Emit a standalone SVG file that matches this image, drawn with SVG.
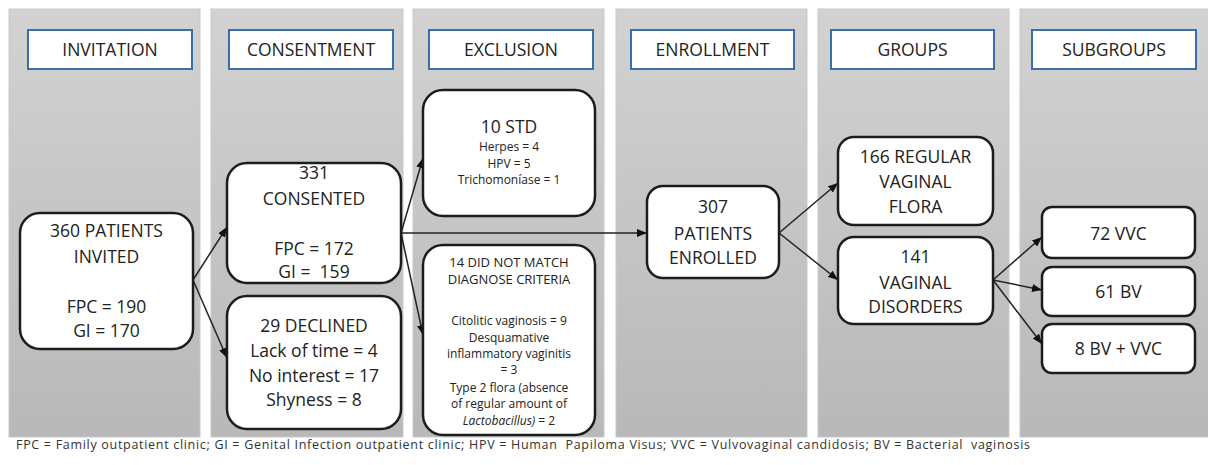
<svg xmlns="http://www.w3.org/2000/svg" width="1208" height="465" viewBox="0 0 1208 465">
<defs>
<linearGradient id="pg" x1="0" y1="0" x2="0" y2="1">
<stop offset="0" stop-color="#d2d2d2"/>
<stop offset="1" stop-color="#b8b8b8"/>
</linearGradient>
<marker id="ah" markerUnits="userSpaceOnUse" markerWidth="10" markerHeight="8" refX="10" refY="4" orient="auto">
<path d="M0,0 L10,4 L0,8 z" fill="#111"/>
</marker>
</defs>
<style>
.panel{fill:url(#pg);stroke:#c9c9c9;stroke-width:1}
.hdr{fill:#fff;stroke:#3a6ea8;stroke-width:2}
.box{fill:#fff;stroke:#1c1c1c;stroke-width:2.5}
text{font-family:"Open Sans","Liberation Sans",sans-serif;fill:#222;text-anchor:middle}
.h{font-size:17.5px}
.t{font-size:17.5px}
.m{font-size:13px}
.s{font-size:12px}
.c{stroke:#222;stroke-width:1.5;fill:none;marker-end:url(#ah)}
.foot{font-size:12.5px;text-anchor:start;fill:#333}
</style>
<rect width="1208" height="465" fill="#fff"/>
<g id="panels">
<rect class="panel" x="9" y="9" width="191" height="428"/>
<rect class="panel" x="211" y="9" width="192" height="428"/>
<rect class="panel" x="413" y="9" width="191" height="428"/>
<rect class="panel" x="616" y="9" width="191" height="428"/>
<rect class="panel" x="818" y="9" width="191" height="428"/>
<rect class="panel" x="1020" y="9" width="190" height="428"/>
</g>
<g id="headers">
<g id="h-invitation"><rect class="hdr" x="28" y="30" width="164" height="39"/><text class="h" x="110" y="56">INVITATION</text></g>
<g id="h-consentment"><rect class="hdr" x="229" y="30" width="164" height="39"/><text class="h" x="311" y="56">CONSENTMENT</text></g>
<g id="h-exclusion"><rect class="hdr" x="429" y="30" width="164" height="39"/><text class="h" x="511" y="56">EXCLUSION</text></g>
<g id="h-enrollment"><rect class="hdr" x="631" y="30" width="163" height="39"/><text class="h" x="712.5" y="56">ENROLLMENT</text></g>
<g id="h-groups"><rect class="hdr" x="831" y="30" width="163" height="39"/><text class="h" x="912.5" y="56">GROUPS</text></g>
<g id="h-subgroups"><rect class="hdr" x="1032" y="30" width="164" height="39"/><text class="h" x="1114" y="56">SUBGROUPS</text></g>
</g>
<g id="connectors">
<line class="c" x1="193" y1="280" x2="227" y2="227"/>
<line class="c" x1="193" y1="280" x2="227" y2="358"/>
<line class="c" x1="401" y1="233" x2="423" y2="158"/>
<line class="c" x1="401" y1="233" x2="423" y2="335"/>
<line class="c" x1="401" y1="233" x2="647" y2="233"/>
<line class="c" x1="779" y1="233" x2="838" y2="183"/>
<line class="c" x1="779" y1="233" x2="838" y2="280"/>
<line class="c" x1="993" y1="280" x2="1042" y2="237"/>
<line class="c" x1="993" y1="280" x2="1042" y2="290"/>
<line class="c" x1="993" y1="280" x2="1042" y2="344"/>
</g>
<g id="n-invited">
<rect class="box" x="20" y="213" width="173" height="136" rx="20"/>
<text class="t" x="106.5" y="237">360 PATIENTS</text>
<text class="t" x="106.5" y="263">INVITED</text>
<text class="t" x="106.5" y="313">FPC = 190</text>
<text class="t" x="106.5" y="337">GI = 170</text>
</g>
<g id="n-consented">
<rect class="box" x="227" y="163" width="174" height="120" rx="20"/>
<text class="t" x="314" y="179">331</text>
<text class="t" x="314" y="205">CONSENTED</text>
<text class="t" x="314" y="255">FPC = 172</text>
<text class="t" x="314" y="278" xml:space="preserve">GI =  159</text>
</g>
<g id="n-declined">
<rect class="box" x="227" y="296" width="174" height="133" rx="20"/>
<text class="t" x="314" y="332">29 DECLINED</text>
<text class="t" x="314" y="357">Lack of time = 4</text>
<text class="t" x="314" y="382">No interest = 17</text>
<text class="t" x="314" y="406">Shyness = 8</text>
</g>
<g id="n-std">
<rect class="box" x="423" y="90" width="172" height="126" rx="20"/>
<text class="t" x="509" y="133">10 STD</text>
<text class="s" x="509" y="151">Herpes = 4</text>
<text class="s" x="509" y="168">HPV = 5</text>
<text class="s" x="509" y="184">Trichomoníase = 1</text>
</g>
<g id="n-nomatch">
<rect class="box" x="423" y="245" width="172" height="190" rx="20"/>
<text class="m" x="509" y="267">14 DID NOT MATCH</text>
<text class="m" x="509" y="284">DIAGNOSE CRITERIA</text>
<text class="s" x="509" y="325">Citolitic vaginosis = 9</text>
<text class="s" x="509" y="342">Desquamative</text>
<text class="s" x="509" y="358">inflammatory vaginitis</text>
<text class="s" x="509" y="374">= 3</text>
<text class="s" x="509" y="392">Type 2 flora (absence</text>
<text class="s" x="509" y="408">of regular amount of</text>
<text class="s" x="509" y="425"><tspan font-style="italic">Lactobacillus)</tspan> = 2</text>
</g>
<g id="n-enrolled">
<rect class="box" x="647" y="186" width="132" height="92" rx="16"/>
<text class="t" x="713" y="213">307</text>
<text class="t" x="713" y="240">PATIENTS</text>
<text class="t" x="713" y="264">ENROLLED</text>
</g>
<g id="n-regular">
<rect class="box" x="838" y="137" width="155" height="88" rx="16"/>
<text class="t" x="915.5" y="163">166 REGULAR</text>
<text class="t" x="915.5" y="188">VAGINAL</text>
<text class="t" x="915.5" y="213">FLORA</text>
</g>
<g id="n-disorders">
<rect class="box" x="838" y="237" width="155" height="87" rx="16"/>
<text class="t" x="915.5" y="263">141</text>
<text class="t" x="915.5" y="289">VAGINAL</text>
<text class="t" x="915.5" y="313">DISORDERS</text>
</g>
<g id="n-vvc">
<rect class="box" x="1042" y="207" width="153" height="51" rx="10"/>
<text class="t" x="1118.5" y="240">72 VVC</text>
</g>
<g id="n-bv">
<rect class="box" x="1042" y="267" width="153" height="49" rx="10"/>
<text class="t" x="1118.5" y="298">61 BV</text>
</g>
<g id="n-bvvvc">
<rect class="box" x="1042" y="324" width="153" height="49" rx="10"/>
<text class="t" x="1118.5" y="355">8 BV + VVC</text>
</g>
<text class="foot" x="16" y="449" textLength="1014" lengthAdjust="spacing" xml:space="preserve">FPC = Family outpatient clinic; GI = Genital Infection outpatient clinic; HPV = Human  Papiloma Visus; VVC = Vulvovaginal candidosis; BV = Bacterial  vaginosis</text>
</svg>
